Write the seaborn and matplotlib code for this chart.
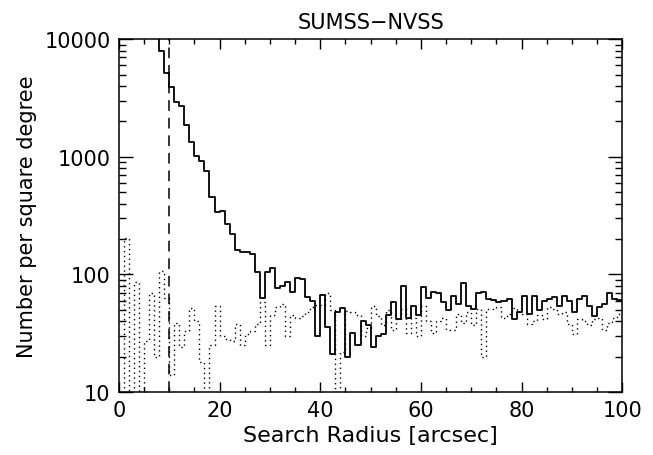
import numpy as np
import pandas as pd
import seaborn as sns
import matplotlib.pyplot as plt
from matplotlib.ticker import MultipleLocator, LogLocator, NullFormatter, FixedLocator, FixedFormatter

# counts per 1-arcsec bin; solid = real matches (bins 7..99), dotted = random offsets (bins 0..99)
solid_start = 7
solid_counts = [14000, 7900, 5150, 3920, 2920, 2680, 1845, 1335, 1014, 912,
                755, 454, 340, 349, 269, 221, 162, 156, 156, 149,
                104, 63, 104, 114, 77, 79, 86, 71, 93, 92,
                64, 59, 30, 67, 36, 21, 48, 52, 20, 32,
                25, 40, 37, 24, 30, 31, 45, 58, 42, 80,
                43, 54, 45, 78, 63, 71, 69, 58, 50, 65,
                56, 84, 54, 51, 70, 71, 62, 61, 58, 59,
                62, 42, 48, 65, 46, 65, 50, 60, 62, 64,
                54, 65, 59, 48, 62, 65, 54, 44, 53, 56,
                69, 62, 61]

random_counts = [0, 203, 0, 87, 0, 27, 70, 20, 106, 63,
                 14, 39, 24, 33, 52, 40, 18, 0, 25, 54,
                 30, 28, 27, 38, 25, 31, 33, 38, 58, 25,
                 45, 53, 56, 30, 45, 43, 44, 48, 53, 55,
                 55, 70, 50, 0, 22, 49, 48, 45, 30, 35,
                 54, 44, 37, 50, 34, 42, 51, 32, 43, 30,
                 54, 40, 32, 40, 43, 34, 34, 46, 39, 48,
                 37, 51, 20, 51, 51, 53, 43, 46, 52, 48,
                 46, 38, 40, 45, 42, 53, 51, 46, 48, 38,
                 31, 42, 40, 37, 42, 43, 34, 39, 43, 46]

cut_radius = 10
x_ticks = [0, 20, 40, 60, 80, 100]
y_ticks = [10, 100, 1000, 10000]
y_ticklabels = ["10", "100", "1000", "10000"]


def step_frame(start, counts):
    # left bin edges plus the closing right edge so steps-post draws the last bin
    edges = np.arange(start, start + len(counts) + 1)
    vals = np.clip(np.append(counts, counts[-1]), 1, None)  # empty bins fall below the axis
    return pd.DataFrame({"r": edges, "n": vals})


sns.set_style("ticks")
plt.rcParams["font.family"] = ["DejaVu Sans"]
plt.rcParams["text.color"] = "black"
plt.rcParams["axes.labelcolor"] = "black"
plt.rcParams["xtick.color"] = "black"
plt.rcParams["ytick.color"] = "black"

fig = plt.figure(figsize=(6.53, 4.56), dpi=100)
ax = fig.add_axes([0.182, 0.138, 0.771, 0.774])

sns.lineplot(data=step_frame(solid_start, solid_counts), x="r", y="n", estimator=None,
             drawstyle="steps-post", color="black", linewidth=1.3, ax=ax)
sns.lineplot(data=step_frame(0, random_counts), x="r", y="n", estimator=None,
             drawstyle="steps-post", color="black", linewidth=1.0, linestyle=(0, (1, 2.5)), ax=ax)
ax.axvline(cut_radius, color="black", linewidth=1.1, linestyle=(0, (7, 4.5)))

ax.set_yscale("log")
ax.set_xlim(0, 100)
ax.set_ylim(10, 10000)

ax.xaxis.set_major_locator(FixedLocator(x_ticks))
ax.xaxis.set_minor_locator(MultipleLocator(5))
ax.yaxis.set_major_locator(FixedLocator(y_ticks))
ax.yaxis.set_major_formatter(FixedFormatter(y_ticklabels))
ax.yaxis.set_minor_locator(LogLocator(base=10, subs=np.arange(2, 10)))
ax.yaxis.set_minor_formatter(NullFormatter())

ax.tick_params(axis="both", which="both", direction="in", top=True, right=True,
               color="black", labelcolor="black", width=1.0, labelsize=15, pad=6)
ax.tick_params(axis="x", which="major", length=7)
ax.tick_params(axis="x", which="minor", length=3.5)
ax.tick_params(axis="y", which="major", length=10)
ax.tick_params(axis="y", which="minor", length=5)

for s in ax.spines.values():
    s.set_linewidth(1.1)
    s.set_color("black")

ax.set_xlabel("Search Radius [arcsec]", fontsize=16, labelpad=3)
ax.set_ylabel("Number per square degree", fontsize=15, labelpad=5)
ax.set_title("SUMSS\u2212NVSS", fontsize=15, pad=8)

fig.savefig("out.png", dpi=100, facecolor="white")
